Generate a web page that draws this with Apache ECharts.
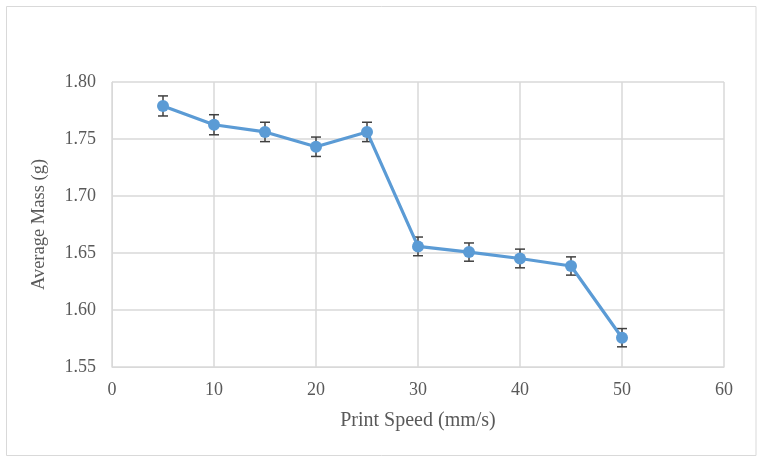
<!DOCTYPE html>
<html>
<head>
<meta charset="utf-8">
<script src="https://cdn.jsdelivr.net/npm/echarts@6/dist/echarts.min.js"></script>
<style>html,body{margin:0;padding:0;background:#fff;}#main{width:763px;height:464px;}</style>
</head>
<body>
<div id="main"></div>
<script>
const speeds = [5, 10, 15, 20, 25, 30, 35, 40, 45, 50];
const masses = [1.7790, 1.7625, 1.7562, 1.7432, 1.7562, 1.6558, 1.6508, 1.6452, 1.6386, 1.5757];
const errors = [0.0088, 0.0088, 0.0085, 0.0085, 0.0085, 0.0082, 0.0080, 0.0082, 0.0080, 0.0080];
const yTicks = [1.55, 1.60, 1.65, 1.70, 1.75, 1.80];
const xTicks = [0, 10, 20, 30, 40, 50, 60];

const chart = echarts.init(document.getElementById('main'), null, {renderer: 'canvas'});
const font = 'Liberation Serif';
const txt = '#595959';
const errData = speeds.map((s, i) => [s, masses[i] - errors[i], masses[i] + errors[i]]);
chart.setOption({
  animation: false,
  backgroundColor: '#fff',
  graphic: [{
    type: 'rect', shape: {x: 6.5, y: 6.5, width: 749.5, height: 449}, silent: true,
    style: {fill: 'none', stroke: '#d9d9d9', lineWidth: 1}
  }],
  grid: {left: 112, right: 39, top: 82, bottom: 97},
  xAxis: {
    type: 'value', min: xTicks[0], max: xTicks[xTicks.length - 1], interval: 10,
    name: 'Print Speed (mm/s)', nameLocation: 'middle', nameGap: 44,
    nameTextStyle: {fontFamily: font, fontSize: 20, color: txt},
    axisLine: {show: true, lineStyle: {color: '#d9d9d9'}},
    axisTick: {show: false},
    axisLabel: {fontFamily: font, fontSize: 18, color: txt, margin: 14},
    splitLine: {show: true, lineStyle: {color: '#d9d9d9', width: 1.5}}
  },
  yAxis: {
    type: 'value', min: yTicks[0], max: yTicks[yTicks.length - 1], interval: 0.05,
    name: 'Average Mass (g)', nameLocation: 'middle', nameGap: 63,
    nameTextStyle: {fontFamily: font, fontSize: 18.5, color: txt},
    axisLine: {show: true, lineStyle: {color: '#d9d9d9'}},
    axisTick: {show: false},
    axisLabel: {fontFamily: font, fontSize: 18, color: txt, margin: 16, formatter: v => v.toFixed(2)},
    splitLine: {show: true, lineStyle: {color: '#d9d9d9', width: 1.5}}
  },
  series: [
    {
      type: 'custom', data: errData, z: 2,
      renderItem: function (params, api) {
        const x = api.value(0);
        const lo = api.coord([x, api.value(1)]);
        const hi = api.coord([x, api.value(2)]);
        const w = 5;
        const st = {stroke: '#404040', lineWidth: 1.5};
        return {type: 'group', children: [
          {type: 'line', shape: {x1: lo[0], y1: lo[1], x2: hi[0], y2: hi[1]}, style: st},
          {type: 'line', shape: {x1: lo[0] - w, y1: lo[1], x2: lo[0] + w, y2: lo[1]}, style: st},
          {type: 'line', shape: {x1: hi[0] - w, y1: hi[1], x2: hi[0] + w, y2: hi[1]}, style: st}
        ]};
      }
    },
    {
      type: 'line', data: speeds.map((s, i) => [s, masses[i]]),
      symbol: 'circle', symbolSize: 12,
      lineStyle: {color: '#5B9BD5', width: 3.2},
      itemStyle: {color: '#5B9BD5'},
      z: 3
    }
  ]
});
</script>
</body>
</html>
